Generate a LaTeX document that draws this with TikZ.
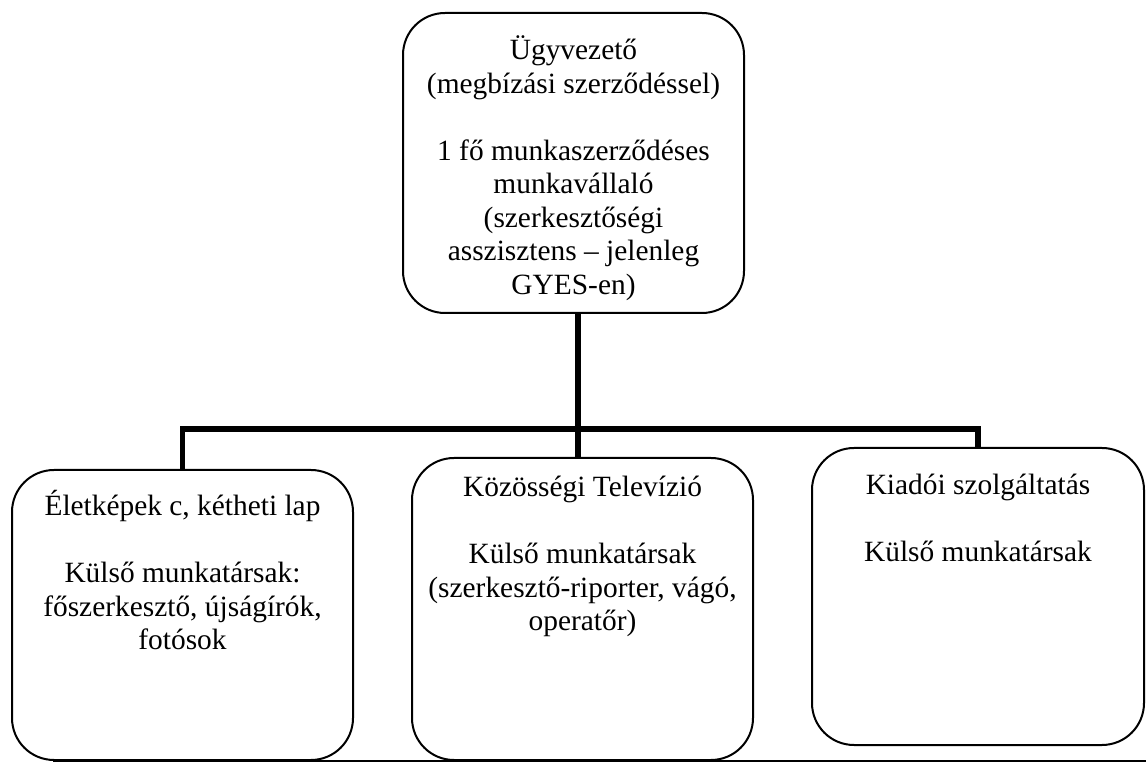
\documentclass[tikz,border=0pt]{standalone}
\usepackage{fontspec}
\setmainfont{Liberation Serif}
\begin{document}
\begin{tikzpicture}[x=0.5pt,y=-0.5pt,
  orgbox/.style={draw,line width=1pt,rounded corners=21pt,inner sep=0pt},
  boxtext/.style={anchor=north,align=center,inner sep=0pt,font=\fontsize{14.7}{16.75}\selectfont},
  conn/.style={line width=2.8pt,line join=miter}]
\useasboundingbox (0,0) rectangle (1146,769);

%Top box
\node[orgbox,minimum width=170.5pt,minimum height=150pt] (ceo) at (573.5,163) {};
\node[boxtext,anchor=center] (ceotext) at ([yshift=-2.5pt]ceo.center)
  {Ügyvezető\\(megbízási szerződéssel)\\[16.75pt]1 fő munkaszerződéses\\munkavállaló\\(szerkesztőségi\\asszisztens – jelenleg\\GYES-en)};

%Lower boxes
\node[orgbox,minimum width=170.5pt,minimum height=145pt] (lap) at (182.5,615) {};
\node[orgbox,minimum width=170.5pt,minimum height=151pt] (tv) at (582.5,609) {};
\node[orgbox,minimum width=166pt,minimum height=148.5pt] (kiado) at (978,596.5) {};

\node[boxtext] (laptext) at ([yshift=-10.5pt]lap.north)
  {\strut Életképek c, kétheti lap\\[16.75pt]Külső munkatársak:\\főszerkesztő, újságírók,\\fotósok};
\node[boxtext] (tvtext) at ([yshift=-8pt]tv.north)
  {\strut Közösségi Televízió\\[16.75pt]Külső munkatársak\\(szerkesztő-riporter, vágó,\\operatőr)};
\node[boxtext] (kiadotext) at ([yshift=-12pt]kiado.north)
  {\strut Kiadói szolgáltatás\\[16.75pt]Külső munkatársak};

%Connectors
\coordinate (mid) at (578,429);
\draw[conn] (ceo.south -| mid) -- (tv.north -| mid);
\draw[conn] (lap.north) |- (mid) -| (kiado.north);

%Bottom rule
\draw[line width=1.2pt] ([xshift=21pt]lap.south west) -- (lap.south -| 1146,0);
\end{tikzpicture}
\end{document}
